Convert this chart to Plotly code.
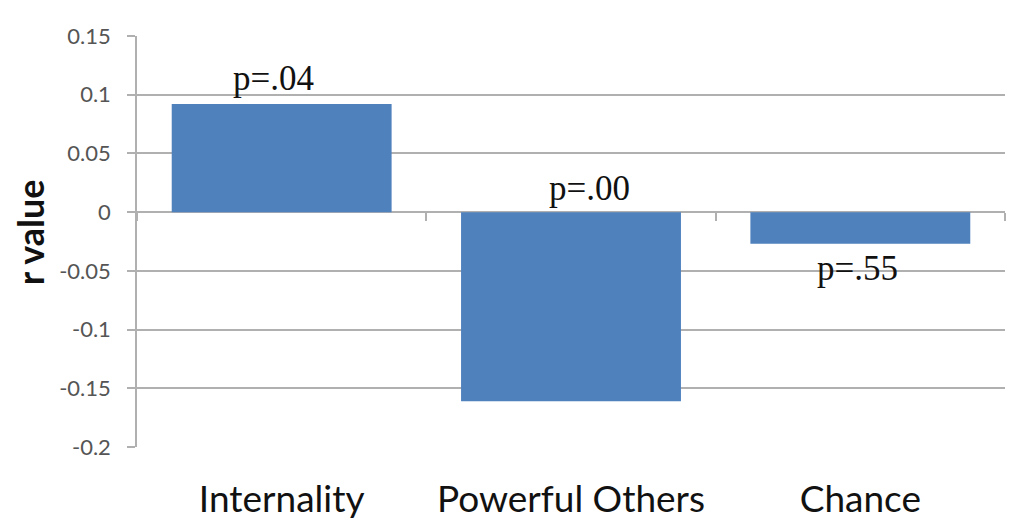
import plotly.graph_objects as go

categories = ["Internality", "Powerful Others", "Chance"]
r_values = [0.092, -0.161, -0.027]
p_labels = ["p=.04", "p=.00", "p=.55"]
y_ticks = [0.15, 0.1, 0.05, 0, -0.05, -0.1, -0.15, -0.2]
y_tick_text = ["0.15", "0.1", "0.05", "0", "-0.05", "-0.1", "-0.15", "-0.2"]

bar_color = "#4f81bd"
grid_color = "#b0b0b0"

fig = go.Figure()
fig.add_trace(go.Bar(x=categories, y=r_values, marker=dict(color=bar_color, line=dict(width=0)),
                     width=0.76, showlegend=False, hoverinfo="skip"))
# invisible trace for overlay axis (tick marks at category boundaries on zero line)
fig.add_trace(go.Scatter(x=categories, y=[0, 0, 0], xaxis="x2", mode="none", showlegend=False, hoverinfo="skip"))

# p-value labels
label_y = [r_values[0], 0, r_values[2]]
label_anchor = ["bottom", "bottom", "top"]
label_xshift = [-8, 18, -3]
label_yshift = [4, 2, -3]
for cat, yv, txt, anc, xs, ys in zip(categories, label_y, p_labels, label_anchor, label_xshift, label_yshift):
    fig.add_annotation(x=cat, y=yv, text=txt, showarrow=False, yanchor=anc, xshift=xs, yshift=ys,
                       font=dict(family="Liberation Serif", size=35, color="#111111"))

# y-axis title
fig.add_annotation(text="<b>r value</b>", xref="paper", yref="paper", x=-0.123, y=0.523,
                   textangle=-90, showarrow=False, xanchor="center", yanchor="middle",
                   font=dict(family="Lato", size=36, color="#111111"))

fig.update_layout(
    width=1010, height=521,
    margin=dict(l=137, r=5, t=36, b=74),
    paper_bgcolor="white", plot_bgcolor="white",
    bargap=0.24,
    font=dict(family="Lato", color="#111111"),
    xaxis=dict(type="category", showgrid=False, zeroline=False, showline=False, ticks="",
               automargin=False,
               tickfont=dict(family="Lato", size=37, color="#111111"), ticklabelstandoff=27,
               range=[-0.5, 2.5]),
    xaxis2=dict(type="category", overlaying="x", anchor="free", position=0.2 / 0.35,
                showline=False, showgrid=False, zeroline=False, showticklabels=False,
                automargin=False,
                ticks="outside", tickson="boundaries", ticklen=8, tickcolor=grid_color, tickwidth=1.5,
                range=[-0.5, 2.5]),
    yaxis=dict(range=[-0.2, 0.15], tickvals=y_ticks, ticktext=y_tick_text,
               automargin=False,
               showgrid=True, gridcolor=grid_color, gridwidth=1.5,
               zeroline=True, zerolinecolor=grid_color, zerolinewidth=1.5,
               showline=True, linecolor=grid_color, linewidth=1.5,
               ticks="outside", ticklen=8, tickcolor=grid_color, tickwidth=1.5,
               ticklabelstandoff=12,
               tickfont=dict(family="Lato", size=22, color="#555555")),
)

fig.write_html("out.html", config={"displayModeBar": False},
               post_script="document.body.style.margin='0';")
